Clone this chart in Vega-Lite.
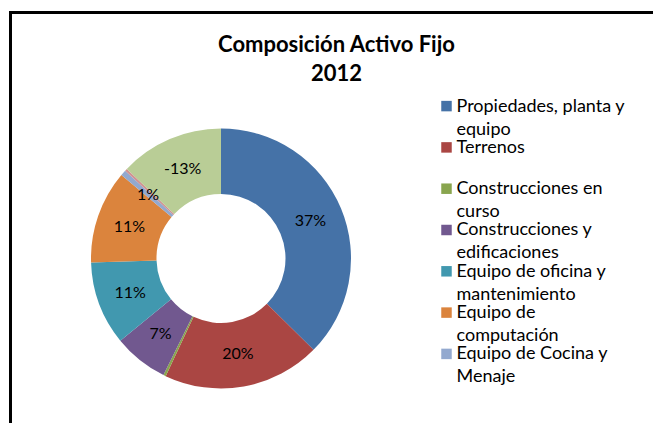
{
  "$schema": "https://vega.github.io/schema/vega-lite/v6.json",
  "autosize": {"type": "none"},
  "padding": {"left": 10.5, "top": 12.5, "right": 0, "bottom": 0},
  "width": 650,
  "height": 418,
  "background": "white",
  "view": {"stroke": "black", "strokeWidth": 3},
  "title": {
    "text": ["Composición Activo Fijo", "2012"],
    "font": "Lato",
    "fontSize": 22,
    "fontWeight": "bold",
    "color": "black",
    "lineHeight": 29,
    "baseline": "top",
    "anchor": "middle",
    "frame": "group",
    "offset": -73,
    "dx": 1
  },
  "data": {
    "values": [
      {"n": 1, "cuenta": "Propiedades, planta y equipo", "porcentaje": 37.4, "etiqueta": "37%"},
      {"n": 2, "cuenta": "Terrenos", "porcentaje": 19.6, "etiqueta": "20%"},
      {"n": 3, "cuenta": "Construcciones en curso", "porcentaje": 0.3, "etiqueta": ""},
      {"n": 4, "cuenta": "Construcciones y edificaciones", "porcentaje": 6.8, "etiqueta": "7%"},
      {"n": 5, "cuenta": "Equipo de oficina y mantenimiento", "porcentaje": 10.4, "etiqueta": "11%"},
      {"n": 6, "cuenta": "Equipo de computación", "porcentaje": 11.6, "etiqueta": "11%"},
      {"n": 7, "cuenta": "Equipo de Cocina y Menaje", "porcentaje": 0.7, "etiqueta": "1%"},
      {"n": 8, "cuenta": "Otros activos", "porcentaje": 0.3, "etiqueta": ""},
      {"n": 9, "cuenta": "Depreciación acumulada", "porcentaje": 12.9, "etiqueta": "-13%"}
    ]
  },
  "encoding": {
    "theta": {"field": "porcentaje", "type": "quantitative", "stack": true},
    "order": {"field": "n", "type": "quantitative"},
    "color": {
      "field": "cuenta",
      "type": "nominal",
      "scale": {
        "domain": ["Propiedades, planta y equipo", "Terrenos", "Construcciones en curso", "Construcciones y edificaciones", "Equipo de oficina y mantenimiento", "Equipo de computación", "Equipo de Cocina y Menaje", "Otros activos", "Depreciación acumulada"],
        "range": ["#4572A7", "#AA4643", "#89A54E", "#71588F", "#4198AF", "#DB843D", "#93A9CF", "#D19392", "#B9CD96"]
      },
      "legend": {
        "title": null,
        "orient": "none",
        "legendX": 427,
        "legendY": 90,
        "values": ["Propiedades, planta y equipo", "Terrenos", "Construcciones en curso", "Construcciones y edificaciones", "Equipo de oficina y mantenimiento", "Equipo de computación", "Equipo de Cocina y Menaje"],
        "labelExpr": "({'Propiedades, planta y equipo': ['Propiedades, planta y', 'equipo'], 'Terrenos': ['Terrenos', ' '], 'Construcciones en curso': ['Construcciones en', 'curso'], 'Construcciones y edificaciones': ['Construcciones y', 'edificaciones'], 'Equipo de oficina y mantenimiento': ['Equipo de oficina y', 'mantenimiento'], 'Equipo de computación': ['Equipo de', 'computación'], 'Equipo de Cocina y Menaje': ['Equipo de Cocina y', 'Menaje']})[datum.label]",
        "labelFont": "Lato",
        "labelFontSize": 18,
        "labelColor": "black",
        "labelBaseline": "alphabetic",
        "labelOffset": 1,
        "labelLimit": 300,
        "symbolType": "M-1,-2.03H1V-0.03H-1Z",
        "symbolSize": 110,
        "symbolStrokeWidth": 0,
        "symbolOpacity": 1,
        "rowPadding": 0.3
      }
    }
  },
  "layer": [
    {
      "mark": {"type": "arc", "x": 210.5, "y": 246, "outerRadius": 130, "innerRadius": 64.5}
    },
    {
      "mark": {"type": "text", "x": 210.5, "y": 246, "radius": 97, "font": "Lato", "fontSize": 16, "color": "black"},
      "encoding": {
        "text": {"field": "etiqueta"},
        "color": {"value": "black"}
      }
    }
  ],
  "config": {
    "view": {"stroke": "black", "strokeWidth": 3},
    "style": {"guide-label": {"lineHeight": 23}}
  }
}
